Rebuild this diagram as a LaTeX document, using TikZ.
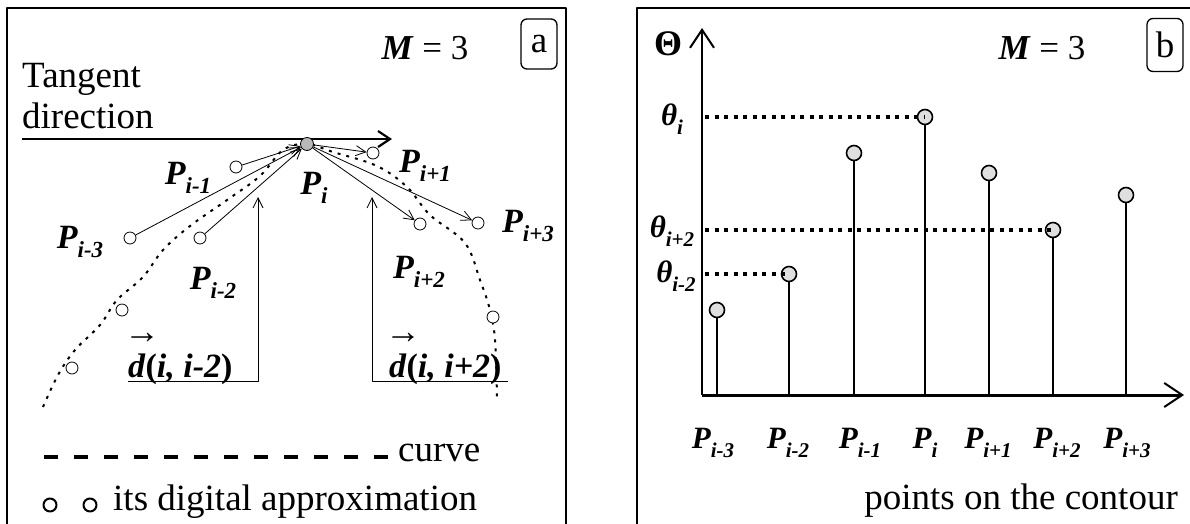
\documentclass[tikz,border=0pt]{standalone}
\usepackage{fontspec}
\setmainfont{Liberation Serif}
\usetikzlibrary{arrows.meta}
\newcommand{\Psb}[2]{#1\raisebox{-0.28em}{\fontsize{21}{22}\selectfont #2}}
\newcommand{\Psba}[2]{#1\raisebox{-0.28em}{\fontsize{23}{24}\selectfont #2}}
\tikzset{
  frameline/.style={line width=2.5pt},
  txt/.style={font=\fontsize{37}{39}\selectfont, inner sep=0pt},
  mtxt/.style={font=\fontsize{35}{37}\selectfont, inner sep=0pt},
  lbl/.style={font=\fontsize{31}{33}\selectfont\bfseries\itshape, inner sep=0pt},
  lbla/.style={font=\fontsize{34}{36}\selectfont\bfseries\itshape, inner sep=0pt},
  vecsign/.style={font=\fontsize{36}{36}\selectfont, inner sep=0pt},
  tagbox/.style={draw, rounded corners=6pt, line width=1.3pt, minimum width=36pt, inner sep=0pt, font=\fontsize{37}{39}\selectfont},
  opt/.style={circle, draw, fill=white, inner sep=0pt, minimum size=12pt, line width=0.8pt},
  cpt/.style={circle, draw, fill=gray!55, inner sep=0pt, minimum size=13pt, line width=0.8pt},
  legpt/.style={circle, draw, inner sep=0pt, minimum size=13pt, line width=2pt},
  vec/.style={line width=0.8pt, -{Straight Barb[length=10pt,width=10pt,line width=0.8pt]}},
  curveline/.style={line width=2pt, dash pattern=on 3pt off 6pt},
  bpt/.style={circle, draw, fill=gray!25, inner sep=0pt, minimum size=15pt, line width=1.6pt},
  stem/.style={line width=2pt},
  dotline/.style={line width=4pt, dash pattern=on 4pt off 5.5pt},
  axis/.style={-{Straight Barb[length=18pt,width=24pt,line width=2pt]}}
}
\begin{document}
\begin{tikzpicture}[x=1pt,y=-1pt,line join=round]
\useasboundingbox (0,0) rectangle (1190,523);
% ---------------- panel a ----------------
\draw[frameline] (7,540) -- (7,8) -- (566,8) -- (566,540);
\node[tagbox, minimum height=50pt] (taga) at (539,44) {a};
\node[mtxt] (ma) at (425,48) {\textbf{\textit{M}} = 3};
\node[txt, anchor=base west] (tan1) at (22,87) {Tangent};
\node[txt, anchor=base west] (tan2) at (22,128) {direction};
\coordinate (t0) at (22,139);
\coordinate (t1) at (392,139);
\draw[line width=2.2pt, -{Straight Barb[length=12pt,width=16pt,line width=2.2pt]}] (t0) -- (t1);
% curve
\draw[curveline] plot[smooth, tension=0.6] coordinates {(43,407) (58,375) (75,350) (100,325) (117,300) (143,277) (163,250) (190,226) (227,200) (260,176) (283,150) (307,144) (333,152) (377,166) (407,187) (430,215) (465,243) (480,280) (490,310) (495,340) (497,397)};
% points
\node[cpt] (pi) at (307,144) {};
\node[opt] (pm1) at (236,167) {};
\node[opt] (pm3) at (130,238) {};
\node[opt] (pm2) at (200,238) {};
\node[opt] (pp1) at (373,153) {};
\node[opt] (pp2) at (420,224) {};
\node[opt] (pp3) at (478,223) {};
\node[opt] (q1) at (122,310) {};
\node[opt] (q2) at (72,368) {};
\node[opt] (q3) at (493,317) {};
\draw[vec] (pm1) -- (pi);
\draw[vec] (pm3) -- (pi);
\draw[vec] (pm2) -- (pi);
\draw[vec] (pi) -- (pp1);
\draw[vec] (pi) -- (pp2);
\draw[vec] (pi) -- (pp3);
% labels
\node[lbla] (lm1) at (188,178) {\Psba{P}{i-1}};
\node[lbla] (lm3) at (80,242) {\Psba{P}{i-3}};
\node[lbla] (lm2) at (213,283) {\Psba{P}{i-2}};
\node[lbla] (li) at (314,188) {\Psba{P}{i}};
\node[lbla] (lp1) at (425,166) {\Psba{P}{i+1}};
\node[lbla] (lp3) at (528,226) {\Psba{P}{i+3}};
\node[lbla] (lp2) at (419,272) {\Psba{P}{i+2}};
% distance brackets
\node[lbla, anchor=base west] (d1) at (128,377) {d\textup{(}i, i-2\textup{)}};
\node[vecsign] (v1) at (142,338) {→};
\coordinate (b1a) at (128,381);
\coordinate (b1b) at (258,381);
\coordinate (b1c) at (258,197);
\draw[vec] (b1a) -- (b1b) -- (b1c);
\node[lbla, anchor=base west] (d2) at (389,377) {d\textup{(}i, i+2\textup{)}};
\node[vecsign] (v2) at (403,338) {→};
\coordinate (b2a) at (508,381);
\coordinate (b2b) at (372,381);
\coordinate (b2c) at (372,197);
\draw[vec] (b2a) -- (b2b) -- (b2c);
% legend
\coordinate (lg0) at (44,457);
\coordinate (lg1) at (390,457);
\draw[line width=4.5pt, dash pattern=on 14pt off 16pt] (lg0) -- (lg1);
\node[txt, anchor=west] (lcurve) at (398,453) {curve};
\node[legpt] (lc1) at (50,505) {};
\node[legpt] (lc2) at (90,505) {};
\node[txt, anchor=west] (lapp) at (113,502) {its digital approximation};
% ---------------- panel b ----------------
\draw[frameline] (637,540) -- (637,8) -- (1200,8);
\node[tagbox, minimum height=53pt] (tagb) at (1165,45) {b};
\node[mtxt] (mb) at (1042,48) {\textbf{\textit{M}} = 3};
\node[font=\fontsize{36}{38}\selectfont\bfseries, inner sep=0pt] (Th) at (668,44) {Θ};
\coordinate (o) at (702,395);
\coordinate (ytop) at (702,28);
\coordinate (xend) at (1184,395);
\draw[axis, line width=1.6pt] (o) -- (ytop);
\draw[axis, line width=3pt] (o) -- (xend);
% stems
\foreach \n/\x/\y in {s1/717/310, s2/789/274, s3/854/153, s4/925/117, s5/989/173, s6/1053/230, s7/1126/195}{
  \coordinate (\n b) at (\x,395);
  \node[bpt] (\n) at (\x,\y) {};
  \draw[stem] (\n b) -- (\n);
}
% theta labels and dotted guides
\node[lbl] (thi) at (672,119) {\Psb{θ}{i}};
\node[lbl] (thp2) at (672,231) {\Psb{θ}{i+2}};
\node[lbl] (thm2) at (676,276) {\Psb{θ}{i-2}};
\coordinate (g1) at (705,117);
\coordinate (g2) at (705,230);
\coordinate (g3) at (705,274);
\draw[dotline] (g1) -- (s4.center);
\draw[dotline] (g2) -- (s6.center);
\draw[dotline] (g3) -- (s2.center);
% x labels
\node[lbl] (x1) at (713,443) {\Psb{P}{i-3}};
\node[lbl] (x2) at (788,443) {\Psb{P}{i-2}};
\node[lbl] (x3) at (860,443) {\Psb{P}{i-1}};
\node[lbl] (x4) at (925,443) {\Psb{P}{i}};
\node[lbl] (x5) at (988,443) {\Psb{P}{i+1}};
\node[lbl] (x6) at (1057,443) {\Psb{P}{i+2}};
\node[lbl] (x7) at (1127,443) {\Psb{P}{i+3}};
\node[txt, anchor=east] (pts) at (1178,501) {points on the contour};
\end{tikzpicture}
\end{document}
